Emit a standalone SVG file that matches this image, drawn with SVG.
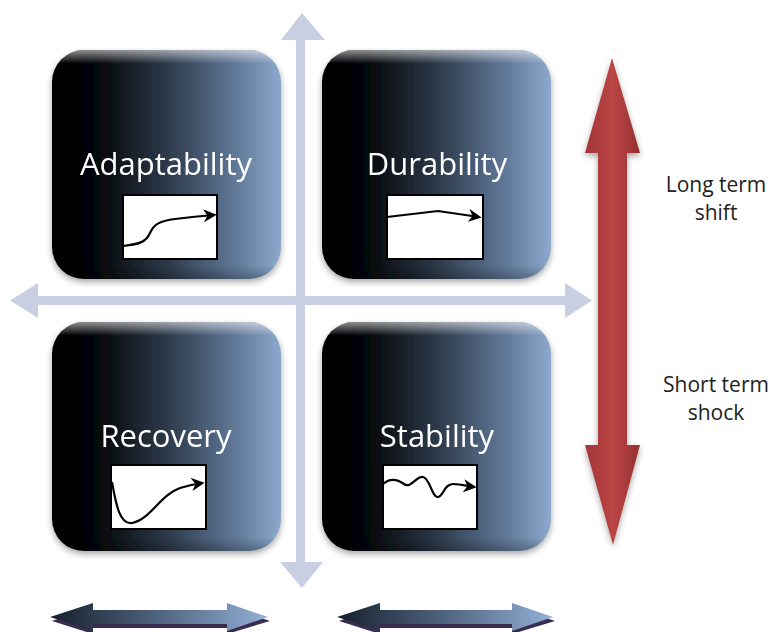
<svg xmlns="http://www.w3.org/2000/svg" width="775" height="632" viewBox="0 0 775 632">
<defs>
<linearGradient id="boxG" x1="0" y1="0" x2="1" y2="0">
<stop offset="0" stop-color="#000"/>
<stop offset="0.2" stop-color="#05070a"/>
<stop offset="0.5" stop-color="#2c3949"/>
<stop offset="0.8" stop-color="#607898"/>
<stop offset="1" stop-color="#8ca8cc"/>
</linearGradient>
<linearGradient id="gloss" x1="0" y1="0" x2="0" y2="1">
<stop offset="0" stop-color="#fff" stop-opacity="0.55"/>
<stop offset="0.06" stop-color="#fff" stop-opacity="0"/>
<stop offset="0.94" stop-color="#000" stop-opacity="0"/>
<stop offset="1" stop-color="#000" stop-opacity="0.25"/>
</linearGradient>
<linearGradient id="redG" x1="0" y1="0" x2="1" y2="0">
<stop offset="0" stop-color="#a23636"/>
<stop offset="0.5" stop-color="#bb4545"/>
<stop offset="1" stop-color="#953030"/>
</linearGradient>
<linearGradient id="dblG" x1="0" y1="0" x2="1" y2="0">
<stop offset="0" stop-color="#17202b"/>
<stop offset="0.5" stop-color="#4f6480"/>
<stop offset="1" stop-color="#93b0d6"/>
</linearGradient>
<filter id="sh" x="-10%" y="-10%" width="120%" height="120%">
<feGaussianBlur in="SourceAlpha" stdDeviation="3"/>
<feOffset dx="0" dy="3" result="b"/>
<feFlood flood-color="#000" flood-opacity="0.35"/>
<feComposite in2="b" operator="in"/>
<feMerge><feMergeNode/><feMergeNode in="SourceGraphic"/></feMerge>
</filter>
<marker id="ah" viewBox="0 0 10 10" refX="8" refY="5" markerWidth="6" markerHeight="6" orient="auto" markerUnits="strokeWidth">
<path d="M0,0 L10,5 L0,10 L3,5 z" fill="#000"/>
</marker>
<style>
.box{fill:url(#boxG);}
.gl{fill:url(#gloss);}
.lbl{font-family:"Open Sans","Liberation Sans",sans-serif;font-size:31px;fill:#fff;text-anchor:middle;}
.chart{fill:#fff;stroke:#000;stroke-width:2;}
.curve{fill:none;stroke:#000;stroke-width:2.2;marker-end:url(#ah);}
.axis{fill:#c8cfe2;}
.side{font-family:"Open Sans","Liberation Sans",sans-serif;font-size:21px;fill:#222;text-anchor:middle;}
</style>
</defs>
<rect width="775" height="632" fill="#fff"/>

<g id="connectors">
<g id="axes">
<path class="axis" d="M296,40 L281,40 L302,13 L325,40 L305,40 L305,296 L565,296 L565,283 L592,300.5 L565,318 L565,305 L305,305 L305,562 L323,562 L302,588 L280,562 L296,562 L296,305 L38,305 L38,318 L10,300.5 L38,283 L38,296 L296,296 Z"/>
</g>
<g id="red-arrow" filter="url(#sh)">
<path fill="url(#redG)" d="M612,58 L640,153 L627,153 L627,445 L640,445 L613,545 L585,445 L598,445 L598,153 L585,153 Z"/>
</g>
<g id="bottom-arrow-left">
<path fill="#3a2c50" d="M52,621 L93,606 L93,614 L227,614 L227,606 L270,621 L227,634 L227,628 L93,628 L93,634 Z"/>
<path fill="url(#dblG)" d="M50,617 L93,603 L93,610 L227,610 L227,603 L268,617 L227,631 L227,624 L93,624 L93,631 Z"/>
</g>
<g id="bottom-arrow-right">
<path fill="#3a2c50" d="M339,621 L380,606 L380,614 L512,614 L512,606 L555,621 L512,634 L512,628 L380,628 L380,634 Z"/>
<path fill="url(#dblG)" d="M337,617 L380,603 L380,610 L512,610 L512,603 L553,617 L512,631 L512,624 L380,624 L380,631 Z"/>
</g>
</g>

<g id="adaptability" filter="url(#sh)">
<rect class="box" x="52" y="50" width="229" height="229" rx="32"/>
<rect class="gl" x="52" y="50" width="229" height="229" rx="32"/>
<text class="lbl" x="166" y="175">Adaptability</text>
<rect class="chart" x="123" y="195" width="94" height="64"/>
<path class="curve" d="M123,246 C140,244 146,242 150,233 C154,224 160,221 175,219 C190,217 200,216 214,215"/>
</g>

<g id="durability" filter="url(#sh)">
<rect class="box" x="322" y="50" width="229" height="229" rx="32"/>
<rect class="gl" x="322" y="50" width="229" height="229" rx="32"/>
<text class="lbl" x="437" y="175">Durability</text>
<rect class="chart" x="387" y="195" width="96" height="64"/>
<path class="curve" d="M387,217 L438,211 L479,217"/>
</g>

<g id="recovery" filter="url(#sh)">
<rect class="box" x="52" y="322" width="229" height="229" rx="32"/>
<rect class="gl" x="52" y="322" width="229" height="229" rx="32"/>
<text class="lbl" x="166" y="447">Recovery</text>
<rect class="chart" x="111" y="465" width="95" height="64"/>
<path class="curve" d="M112,482 C116,505 120,525 132,523 C150,520 160,495 180,488 C190,485 195,484 202,483"/>
</g>

<g id="stability" filter="url(#sh)">
<rect class="box" x="322" y="322" width="229" height="229" rx="32"/>
<rect class="gl" x="322" y="322" width="229" height="229" rx="32"/>
<text class="lbl" x="437" y="447">Stability</text>
<rect class="chart" x="383" y="465" width="94" height="64"/>
<path class="curve" d="M383,484 C390,478 397,479 404,484 C411,489 416,476 423,477 C430,478 432,498 438,497 C444,496 444,484 453,484 C462,484 466,486 474,487"/>
</g>

<g id="labels">
<text class="side" x="716" y="192">Long term</text>
<text class="side" x="716" y="220">shift</text>
<text class="side" x="716" y="392">Short term</text>
<text class="side" x="716" y="420">shock</text>
</g>
</svg>
